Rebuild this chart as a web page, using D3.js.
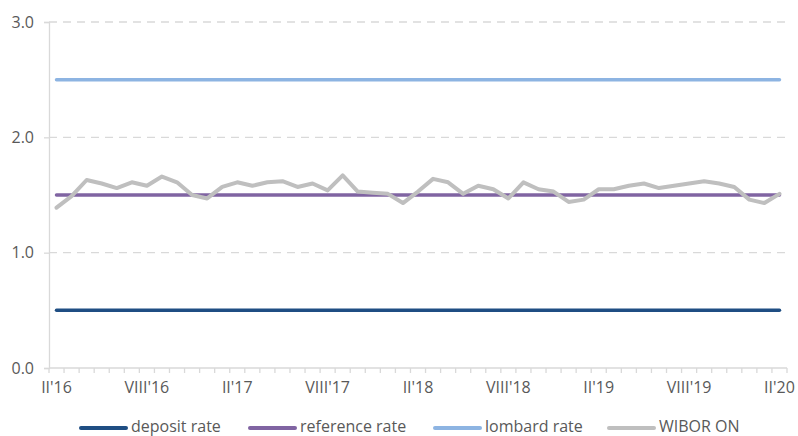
<!DOCTYPE html>
<html>
<head>
<meta charset="utf-8">
<script src="https://cdn.jsdelivr.net/npm/d3@7"></script>
<style>
  html, body { margin: 0; padding: 0; background: #fff; }
  svg { display: block; font-family: "Open Sans", "Noto Sans", sans-serif; }
</style>
</head>
<body>
<svg id="chart" width="798" height="436"></svg>
<script>
const categories = [
  "II'16","III'16","IV'16","V'16","VI'16","VII'16","VIII'16","IX'16","X'16","XI'16","XII'16","I'17",
  "II'17","III'17","IV'17","V'17","VI'17","VII'17","VIII'17","IX'17","X'17","XI'17","XII'17","I'18",
  "II'18","III'18","IV'18","V'18","VI'18","VII'18","VIII'18","IX'18","X'18","XI'18","XII'18","I'19",
  "II'19","III'19","IV'19","V'19","VI'19","VII'19","VIII'19","IX'19","X'19","XI'19","XII'19","I'20",
  "II'20"
];
const tickLabels = ["II'16","VIII'16","II'17","VIII'17","II'18","VIII'18","II'19","VIII'19","II'20"];
const depositRate = 0.5;
const referenceRate = 1.5;
const lombardRate = 2.5;
const wiborOn = [
  1.39,1.49,1.63,1.60,1.56,1.61,1.58,1.66,1.61,1.50,1.47,1.57,
  1.61,1.58,1.61,1.62,1.57,1.60,1.54,1.67,1.53,1.52,1.51,1.43,
  1.53,1.64,1.61,1.51,1.58,1.55,1.47,1.61,1.55,1.53,1.44,1.46,
  1.55,1.55,1.58,1.60,1.56,1.58,1.60,1.62,1.60,1.57,1.46,1.43,
  1.51
];
const yTicks = [0, 1, 2, 3];
const seriesNames = ["deposit rate", "reference rate", "lombard rate", "WIBOR ON"];
const seriesColors = ["#1F4E83", "#8064A2", "#8DB4E2", "#BFBFBF"];

const svg = d3.select("#chart");
const mLeft = 49, mRight = 787, mTop = 22, mBottom = 368;

const x = d3.scaleBand().domain(categories).range([mLeft, mRight]).padding(0);
const y = d3.scaleLinear().domain([0, 3]).range([mBottom, mTop]);
const cx = d => x(d) + x.bandwidth() / 2;

// gridlines
svg.append("g").selectAll("line").data(yTicks.filter(t => t > 0)).join("line")
  .attr("x1", mLeft).attr("x2", mRight)
  .attr("y1", d => y(d)).attr("y2", d => y(d))
  .attr("stroke", "#D9D9D9").attr("stroke-width", 1.3)
  .attr("stroke-dasharray", "8,6");

// y axis
const yAxis = svg.append("g").attr("transform", `translate(${mLeft},0)`)
  .call(d3.axisLeft(y).tickValues(yTicks).tickFormat(d3.format(".1f")).tickSize(5).tickPadding(10));
yAxis.select(".domain").attr("stroke", "#D9D9D9").attr("stroke-width", 1.3);
yAxis.selectAll(".tick line").attr("stroke", "#D9D9D9").attr("stroke-width", 1.3);
yAxis.selectAll(".tick text").attr("fill", "#595959").style("font-size", "16px")
  .style("font-family", "'Open Sans', sans-serif");

// x axis
const xAxisG = svg.append("g").attr("transform", `translate(0,${mBottom})`);
xAxisG.append("line").attr("x1", mLeft).attr("x2", mRight).attr("y1", 0).attr("y2", 0)
  .attr("stroke", "#D9D9D9").attr("stroke-width", 1.3);
const tickPos = categories.map(c => x(c)).concat([mRight]);
xAxisG.selectAll("line.tk").data(tickPos).join("line").attr("class", "tk")
  .attr("x1", d => d).attr("x2", d => d).attr("y1", 0).attr("y2", 5)
  .attr("stroke", "#D9D9D9").attr("stroke-width", 1.3);
xAxisG.selectAll("text").data(tickLabels).join("text")
  .attr("x", d => cx(d)).attr("y", 25)
  .attr("text-anchor", "middle").attr("fill", "#595959")
  .style("font-size", "16px").text(d => d);

// lines
const line = d3.line().x(d => cx(d.c)).y(d => y(d.v));
const flat = v => categories.map(c => ({ c, v }));
const series = [
  flat(depositRate),
  flat(referenceRate),
  flat(lombardRate),
  categories.map((c, i) => ({ c, v: wiborOn[i] }))
];
const widths = [3.5, 3.5, 3.5, 4];
series.forEach((s, i) => {
  svg.append("path").datum(s).attr("d", line)
    .attr("fill", "none").attr("stroke", seriesColors[i])
    .attr("stroke-width", widths[i]).attr("stroke-linejoin", "round").attr("stroke-linecap", "round");
});

// legend
const legendX = [81, 250, 435, 609];
const lg = svg.append("g");
seriesNames.forEach((n, i) => {
  lg.append("line").attr("x1", legendX[i]).attr("x2", legendX[i] + 45)
    .attr("y1", 428).attr("y2", 428)
    .attr("stroke", seriesColors[i]).attr("stroke-width", 4).attr("stroke-linecap", "round");
  lg.append("text").attr("x", legendX[i] + 50).attr("y", 432)
    .attr("fill", "#595959").style("font-size", "16px").text(n);
});
</script>
</body>
</html>
